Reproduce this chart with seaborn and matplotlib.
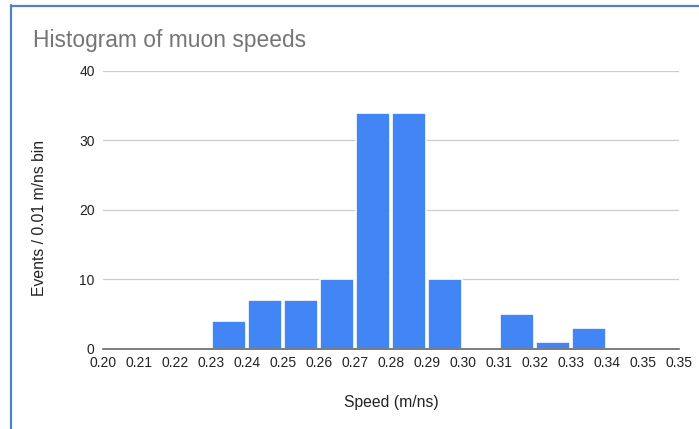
import numpy as np
import pandas as pd
import matplotlib
matplotlib.use("Agg")
import matplotlib.pyplot as plt
import seaborn as sns
from matplotlib.lines import Line2D

# Bin left edges (m/ns) and counts per 0.01 m/ns bin
bin_left = [0.20, 0.21, 0.22, 0.23, 0.24, 0.25, 0.26, 0.27, 0.28, 0.29,
            0.30, 0.31, 0.32, 0.33, 0.34, 0.35]
counts = [0, 0, 0, 4, 7, 7, 10, 34, 34, 10, 0, 5, 1, 3, 0, 0]

# Tick labels as shown in the chart (last one repeats 0.35)
tick_labels = ["0.20", "0.21", "0.22", "0.23", "0.24", "0.25", "0.26", "0.27",
               "0.28", "0.29", "0.30", "0.31", "0.32", "0.33", "0.34", "0.35", "0.35"]
y_ticks = [0, 10, 20, 30, 40]

df = pd.DataFrame({"speed": np.array(bin_left) + 0.005, "events": counts})
edges = np.round(np.arange(0.20, 0.365, 0.01), 2)

sns.set_theme(style="white")
plt.rcParams['font.family'] = ['Liberation Sans', 'DejaVu Sans']

fig = plt.figure(figsize=(6.99, 4.29), dpi=100)
ax = fig.add_axes([0.1474, 0.1865, 0.824, 0.648])

sns.histplot(data=df, x="speed", weights="events", binwidth=0.01,
             binrange=(0.20, 0.36), ax=ax,
             color="#4285F4", alpha=1, edgecolor="white", linewidth=1.2,
             shrink=0.93, zorder=3)

ax.set_xlim(0.20, 0.36)
ax.set_ylim(0, 40)
ax.set_xticks(edges)
ax.set_xticklabels(tick_labels, fontsize=10, color="#222222")
ax.set_yticks(y_ticks)
ax.set_yticklabels([str(v) for v in y_ticks], fontsize=10, color="#222222")
ax.tick_params(axis="x", length=0, pad=5)
ax.tick_params(axis="y", length=0, pad=6)

ax.grid(axis="y", color="#cccccc", linewidth=0.9, zorder=0)
ax.grid(axis="x", visible=False)
for s in ["top", "right", "left"]:
    ax.spines[s].set_visible(False)
ax.spines["bottom"].set_color("#666666")
ax.spines["bottom"].set_linewidth(1.2)
ax.spines["bottom"].set_zorder(4)

ax.set_xlabel("Speed (m/ns)", fontsize=11.3, color="#222222")
ax.set_ylabel("Events / 0.01 m/ns bin", fontsize=11.3, color="#222222")
ax.xaxis.set_label_coords(0.5, -0.165)
ax.yaxis.set_label_coords(-0.098, 0.47)

fig.text(33 / 699, 1 - 41 / 429, "Histogram of muon speeds", fontsize=16.4,
         color="#757575", va="center", ha="left")

# outline of the selected chart frame
fig.add_artist(Line2D([10.5 / 699, 10.5 / 699], [0, 1 - 5 / 429],
                      color="#4f81c7", linewidth=1.6, transform=fig.transFigure))
fig.add_artist(Line2D([10.5 / 699, 1], [1 - 5.5 / 429, 1 - 5.5 / 429],
                      color="#4f81c7", linewidth=1.6, transform=fig.transFigure))

fig.savefig("out.png", dpi=100)
